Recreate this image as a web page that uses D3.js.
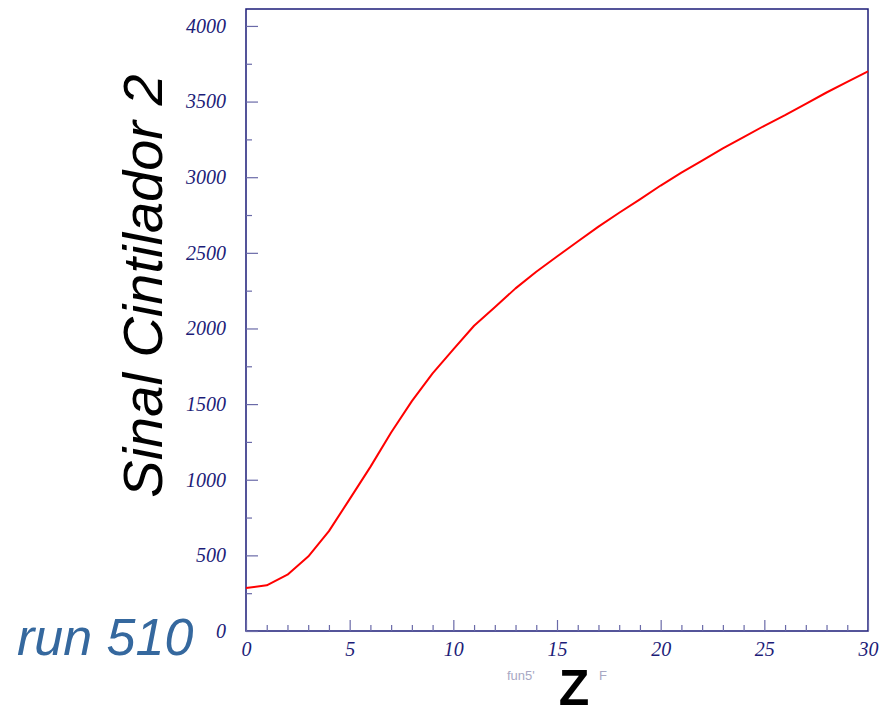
<!DOCTYPE html>
<html>
<head>
<meta charset="utf-8">
<script src="https://cdn.jsdelivr.net/npm/d3@7"></script>
<style>
  html, body { margin: 0; padding: 0; background: #fff; }
  svg { display: block; }
</style>
</head>
<body>
<svg id="chart" width="887" height="710"></svg>
<script>
// Scintillator signal as a function of Z
const zValues = [0, 1, 2, 3, 4, 5, 6, 7, 8, 9, 10, 11, 12, 13, 14, 15,
                 16, 17, 18, 19, 20, 21, 22, 23, 24, 25, 26, 27, 28, 29, 30];
const signalValues = [284, 302, 372, 492, 660, 872, 1085, 1312, 1520, 1703, 1862,
                      2018, 2140, 2265, 2375, 2476, 2575, 2673, 2765, 2854, 2945,
                      3030, 3110, 3190, 3265, 3340, 3410, 3485, 3560, 3630, 3700];
const xTickValues = [0, 5, 10, 15, 20, 25, 30];
const yTickValues = [0, 500, 1000, 1500, 2000, 2500, 3000, 3500, 4000];
const xDomain = [0, 30];
const yDomain = [0, 4112];

const svg = d3.select("#chart");
const frame = { left: 246, right: 868, top: 9, bottom: 631 };
const axisColor = "#1c1c78";
const tickColor = "#6a6aa8";

const x = d3.scaleLinear().domain(xDomain).range([frame.left, frame.right]);
const y = d3.scaleLinear().domain(yDomain).range([frame.bottom, frame.top]);

// frame
svg.append("rect")
  .attr("x", frame.left).attr("y", frame.top)
  .attr("width", frame.right - frame.left).attr("height", frame.bottom - frame.top)
  .attr("fill", "none").attr("stroke", axisColor).attr("stroke-width", 1.5);

// x axis: major ticks every 5, minor every 1, drawn inward
const xAxis = d3.axisBottom(x).tickValues(xTickValues).tickSize(-11).tickFormat(d3.format("d"));
const gx = svg.append("g").attr("transform", `translate(0,${frame.bottom})`).call(xAxis);
gx.select(".domain").remove();
gx.selectAll(".tick line").attr("stroke", tickColor).attr("stroke-width", 1.2);
gx.selectAll(".tick text")
  .attr("y", 10).attr("dy", "0.75em")
  .attr("fill", axisColor)
  .style("font-family", "'Liberation Serif', 'DejaVu Serif', serif")
  .style("font-style", "italic").style("font-size", "20px");
const xMinor = d3.axisBottom(x).tickValues(d3.range(0, 31, 1).filter(v => v % 5 !== 0)).tickSize(-6).tickFormat("");
const gxm = svg.append("g").attr("transform", `translate(0,${frame.bottom})`).call(xMinor);
gxm.select(".domain").remove();
gxm.selectAll(".tick line").attr("stroke", tickColor).attr("stroke-width", 1.2);

// y axis: major ticks every 500, minor every 250, drawn inward
const yAxis = d3.axisLeft(y).tickValues(yTickValues).tickSize(-12).tickFormat(d3.format("d"));
const gy = svg.append("g").attr("transform", `translate(${frame.left},0)`).call(yAxis);
gy.select(".domain").remove();
gy.selectAll(".tick line").attr("stroke", tickColor).attr("stroke-width", 1.2);
gy.selectAll(".tick text")
  .attr("x", -20)
  .attr("fill", axisColor)
  .style("font-family", "'Liberation Serif', 'DejaVu Serif', serif")
  .style("font-style", "italic").style("font-size", "20px");
const yMinor = d3.axisLeft(y).tickValues(d3.range(250, 4100, 500)).tickSize(-6).tickFormat("");
const gym = svg.append("g").attr("transform", `translate(${frame.left},0)`).call(yMinor);
gym.select(".domain").remove();
gym.selectAll(".tick line").attr("stroke", tickColor).attr("stroke-width", 1.2);

// signal curve, drawn as a polyline through the sampled points
const points = zValues.map((z, i) => [z, signalValues[i]]);
const line = d3.line().x(d => x(d[0])).y(d => y(d[1])).curve(d3.curveLinear);
svg.append("path")
  .datum(points)
  .attr("d", line)
  .attr("fill", "none")
  .attr("stroke", "#ff0000")
  .attr("stroke-width", 2)
  .attr("stroke-linejoin", "round");

// y axis title
svg.append("text")
  .attr("transform", "translate(162,286) rotate(-90)")
  .attr("text-anchor", "middle")
  .attr("fill", "#000")
  .style("font-family", "'Liberation Sans', Arial, sans-serif")
  .style("font-style", "italic").style("font-size", "56px")
  .text("Sinal Cintilador 2");

// run label
svg.append("text")
  .attr("x", 17).attr("y", 655)
  .attr("fill", "#35689e")
  .style("font-family", "'Liberation Sans', Arial, sans-serif")
  .style("font-style", "italic").style("font-size", "52px")
  .text("run 510");

// function name fragments
svg.append("text")
  .attr("x", 507).attr("y", 680)
  .attr("fill", "#a8a8c4")
  .style("font-family", "'Liberation Sans', Arial, sans-serif").style("font-size", "13px")
  .text("fun5'");
svg.append("text")
  .attr("x", 599).attr("y", 680)
  .attr("fill", "#a8a8c4")
  .style("font-family", "'Liberation Sans', Arial, sans-serif").style("font-size", "13px")
  .text("F");

// x axis title
svg.append("text")
  .attr("x", 574).attr("y", 705)
  .attr("text-anchor", "middle")
  .attr("fill", "#000")
  .style("font-family", "'Liberation Sans', Arial, sans-serif")
  .style("font-weight", "bold").style("font-size", "50px")
  .text("Z");
</script>
</body>
</html>
